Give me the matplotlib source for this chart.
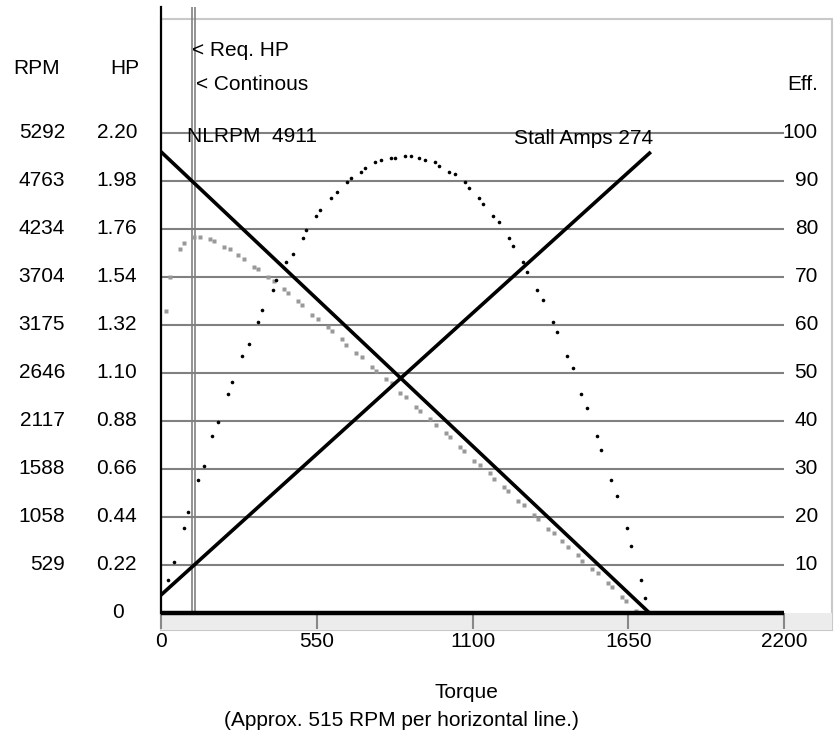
import matplotlib
matplotlib.use("Agg")
import matplotlib.pyplot as plt
from matplotlib.patches import Rectangle

plt.rcParams['font.family'] = ['Liberation Sans', 'DejaVu Sans']

# scale: 100 units on the plot = 5292 RPM = 2.20 HP = 100 % eff
RPM_FULL = 5292
HP_FULL = 2.20

grid_levels = [10, 20, 30, 40, 50, 60, 70, 80, 90, 100]
rpm_labels = ["529", "1058", "1588", "2117", "2646", "3175", "3704", "4234", "4763", "5292"]
hp_labels = ["0.22", "0.44", "0.66", "0.88", "1.10", "1.32", "1.54", "1.76", "1.98", "2.20"]
eff_labels = ["10", "20", "30", "40", "50", "60", "70", "80", "90", "100"]
torque_ticks = [0, 550, 1100, 1650, 2200]

# straight lines
stall_torque = 1725
rpm_torque = [0, stall_torque]
rpm_values = [5085, 0]
amps_torque = [0, stall_torque]
amps_pct = [3.75, 95.8]   # amps drawn as % of scale (stall 274 A)

req_hp_torque = 108
continous_torque = 120

# efficiency dots (%)
eff_torque = [23.7, 47, 81, 95.5, 131, 153, 181.5, 203, 238, 252, 287.6, 309, 344, 358,
              394, 407, 443, 464.5, 500, 513, 549, 562, 599, 620, 655.5, 669.6, 705, 719,
              754.5, 775.7, 811, 825, 860.6, 881.8, 910, 931, 967, 981, 1016, 1037.5,
              1073, 1087, 1122, 1137, 1172, 1193, 1229, 1243, 1278, 1292, 1327, 1348,
              1384, 1398, 1432.6, 1454, 1482, 1503, 1539, 1553, 1588, 1609.5, 1645, 1659,
              1694, 1708.5]
eff_values = [6.9, 10.6, 17.7, 21, 27.7, 30.6, 36.9, 39.8, 45.6, 48.1, 53.5, 56, 60.6, 63.1,
              67.3, 69.4, 73.1, 74.8, 78.1, 79.8, 82.7, 84, 86.5, 87.7, 89.8, 90.6, 91.9, 92.7,
              94, 94.4, 94.8, 94.8, 95.2, 95.2, 94.8, 94.4, 94, 93.1, 91.9, 91.5,
              89.8, 88.5, 86.5, 85.2, 82.7, 81.5, 78.1, 76.5, 73.1, 71, 67.3, 65.2,
              60.6, 58.5, 53.5, 51, 45.6, 42.7, 36.9, 34, 27.7, 24.4, 17.7, 14,
              6.9, 3.1]

# HP dots
hp_torque = [16.6, 30.8, 66, 80, 115.6, 137, 172, 186, 221, 243, 271, 292, 328, 341.5,
             377, 398, 433, 448, 483, 497.6, 533, 554, 590, 604, 639, 653, 689, 710,
             745, 759, 795, 816, 844, 865.5, 900.6, 915, 950, 972, 1006, 1021, 1055, 1069,
             1105, 1126, 1161, 1175, 1211, 1225, 1260, 1282, 1317, 1331, 1366, 1388,
             1416, 1437, 1472, 1487, 1522, 1543, 1579, 1593, 1628, 1643, 1678, 1699]
hp_values = [1.384, 1.542, 1.668, 1.694, 1.723, 1.723, 1.714, 1.703, 1.676, 1.668, 1.639,
             1.621, 1.584, 1.575, 1.538, 1.520, 1.483, 1.465, 1.428, 1.410, 1.364, 1.346,
             1.309, 1.291, 1.254, 1.228, 1.190, 1.173, 1.126, 1.109, 1.071, 1.054, 1.008,
             0.988, 0.944, 0.924, 0.889, 0.860, 0.823, 0.805, 0.759, 0.741, 0.695, 0.678,
             0.640, 0.614, 0.576, 0.559, 0.513, 0.493, 0.449, 0.429, 0.383, 0.365, 0.328,
             0.301, 0.264, 0.238, 0.200, 0.183, 0.136, 0.119, 0.073, 0.055, 0.009, 0.0]

W, H = 834, 738
fig = plt.figure(figsize=(W / 100, H / 100), dpi=100)
ax = fig.add_axes([161 / W, (H - 613) / H, (784 - 161) / W, (613 - 7) / H])
ax.set_xlim(0, 2200)
ax.set_ylim(0, 126.25)
for s in ['top', 'right', 'bottom']:
    ax.spines[s].set_visible(False)
ax.spines['left'].set_linewidth(1.6)
ax.spines['left'].set_color('black')
ax.set_yticks([])
fs = 15
ax.set_xticks(torque_ticks)
ax.set_xticklabels([str(t) for t in torque_ticks], fontsize=fs)
ax.tick_params(axis='x', length=0, pad=14)

# outer light frame and floor band
ax.add_patch(Rectangle((0, -3.5), 2370, 127.25, fill=False, ec='#c8c8c8', lw=1.5, clip_on=False, zorder=0))
ax.add_patch(Rectangle((0, -3.5), 2370, 3.5, fc='#ececec', ec='none', clip_on=False, zorder=0))
ax.vlines(torque_ticks, -3.4, 0, colors='#888888', lw=1.5, clip_on=False)

# grid lines
ax.hlines(grid_levels, 0, 2200, colors='#808080', lw=1.5, zorder=1)

# req / continuous markers
ax.axvline(req_hp_torque, color='#808080', lw=1.2, zorder=2)
ax.axvline(continous_torque, color='#808080', lw=1.2, zorder=2)

# dotted curves
ax.plot(hp_torque, [h / HP_FULL * 100 for h in hp_values], ls='none', marker='s',
        ms=2.2, color='#999999', mec='none', zorder=3)
ax.plot(eff_torque, eff_values, ls='none', marker='o', ms=2.6, color='black', mec='none', zorder=3)

# straight lines
ax.plot(rpm_torque, [r / RPM_FULL * 100 for r in rpm_values], color='black', lw=2.6, zorder=4)
ax.plot(amps_torque, amps_pct, color='black', lw=2.6, zorder=4)
ax.plot([0, 2200], [0, 0], color='black', lw=3.2, zorder=4, solid_capstyle='butt', clip_on=False)

# left / right scale labels
tr_left = ax.get_yaxis_transform()
for lvl, r, h, e in zip(grid_levels, rpm_labels, hp_labels, eff_labels):
    ax.text(-96 / 623, lvl, r, transform=tr_left, ha='right', va='center', fontsize=fs)
    ax.text(-24 / 623, lvl, h, transform=tr_left, ha='right', va='center', fontsize=fs)
    ax.text(1 + 34 / 623, lvl, e, transform=tr_left, ha='right', va='center', fontsize=fs)
ax.text(-37 / 623, 0, "0", transform=tr_left, ha='right', va='center', fontsize=fs)

fig.text(37 / W, 1 - 69 / H, "RPM", ha='center', va='center', fontsize=fs)
fig.text(125 / W, 1 - 69 / H, "HP", ha='center', va='center', fontsize=fs)
fig.text(818 / W, 1 - 84 / H, "Eff.", ha='right', va='center', fontsize=fs)
fig.text(192 / W, 1 - 51 / H, "< Req. HP", ha='left', va='center', fontsize=fs)
fig.text(196 / W, 1 - 84 / H, "< Continous", ha='left', va='center', fontsize=fs)
fig.text(187 / W, 1 - 137 / H, "NLRPM  4911", ha='left', va='center', fontsize=fs)
fig.text(653 / W, 1 - 138 / H, "Stall Amps 274", ha='right', va='center', fontsize=fs)
fig.text(466 / W, 1 - 692 / H, "Torque", ha='center', va='center', fontsize=fs)
fig.text(401 / W, 1 - 720 / H, "(Approx. 515 RPM per horizontal line.)", ha='center', va='center', fontsize=fs)

fig.savefig("out.png", dpi=100)
